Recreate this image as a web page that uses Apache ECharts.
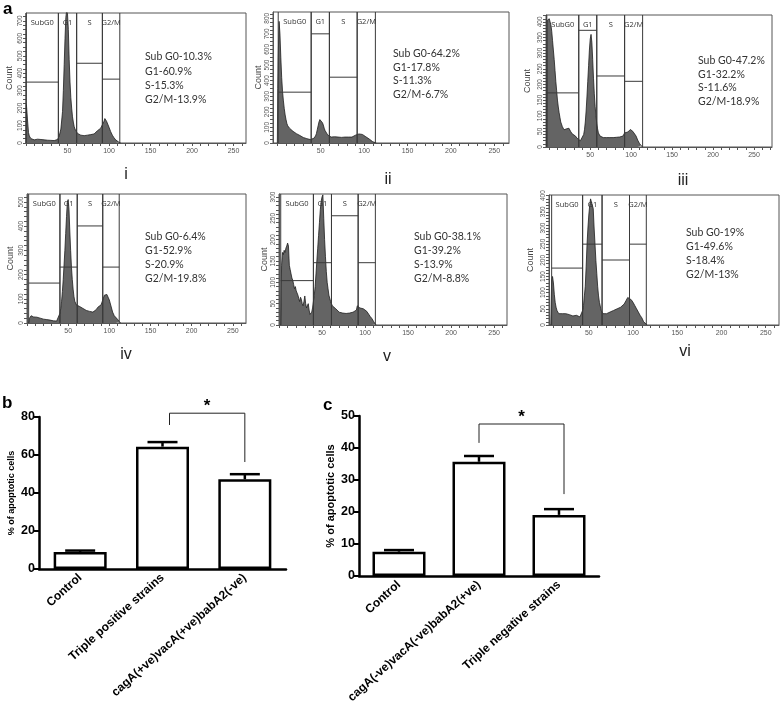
<!DOCTYPE html>
<html><head><meta charset="utf-8">
<script src="https://cdn.jsdelivr.net/npm/echarts@6/dist/echarts.min.js"></script>
<style>html,body{margin:0;padding:0;background:#fff}#c{width:784px;height:717px}</style>
</head><body><div id="c"></div><script>
// ---------- DATA: flow cytometry histograms (channel, count) ----------
const histI = [[0,0],[0.5,220],[1,215],[2,120],[3,60],[4,40],[5,30],[6,25],[8,20],[10,18],[12,15],[14,22],[16,18],[18,20],[20,15],[22,18],[24,14],[26,16],[28,12],[30,15],[32,12],[34,14],[36,15],[38,20],[40,40],[42,80],[44,180],[45,300],[46,450],[47,600],[48,720],[49,760],[50,740],[51,650],[52,480],[53,350],[54,260],[55,200],[56,150],[57,120],[58,95],[59,80],[60,70],[62,55],[64,50],[66,45],[68,48],[70,42],[72,50],[74,45],[76,52],[78,48],[80,55],[82,52],[84,60],[86,70],[88,78],[90,85],[92,105],[94,125],[95,140],[96,135],[97,125],[98,115],[100,90],[102,65],[104,45],[106,30],[108,18],[110,8],[112,4],[114,0]];
const histII = [[0,0],[0.5,350],[1,550],[2,780],[3,700],[4,550],[5,420],[6,330],[7,270],[8,220],[9,180],[10,150],[11,125],[12,110],[14,95],[16,85],[18,75],[20,65],[22,60],[24,52],[26,48],[28,40],[30,35],[32,32],[34,28],[36,25],[38,22],[40,22],[42,30],[44,45],[45,60],[46,85],[47,110],[48,135],[49,150],[50,155],[51,150],[52,130],[53,115],[54,95],[55,80],[56,68],[58,52],[60,42],[62,38],[64,35],[66,40],[68,35],[70,38],[72,32],[74,36],[76,35],[78,38],[80,35],[82,38],[84,40],[86,38],[88,45],[90,50],[92,55],[94,58],[96,60],[98,55],[100,50],[102,40],[104,32],[106,25],[108,15],[110,8],[112,3],[114,0]];
const histIII = [[-3,0],[-2.5,405],[0,410],[1,400],[2,390],[3,370],[4,340],[5,310],[6,280],[7,245],[8,210],[9,180],[10,150],[11,128],[12,110],[13,95],[14,80],[16,65],[18,55],[20,52],[21,58],[22,62],[23,64],[24,60],[26,50],[28,42],[30,38],[32,35],[34,28],[36,22],[38,20],[40,25],[42,40],[43,55],[44,80],[45,115],[46,160],[47,210],[48,260],[49,310],[50,345],[51,360],[52,335],[53,280],[54,220],[55,170],[56,130],[57,100],[58,75],[59,58],[60,45],[62,35],[64,32],[66,30],[68,33],[70,30],[72,32],[74,30],[76,34],[78,30],[80,33],[82,31],[84,35],[86,32],[88,34],[90,35],[92,45],[94,50],[96,48],[98,52],[99,56],[100,55],[102,50],[104,45],[106,35],[108,22],[110,12],[112,5],[114,0]];
const histIV = [[2,0],[3,20],[4,25],[5,30],[6,26],[8,25],[10,22],[12,24],[14,18],[16,20],[18,15],[20,16],[22,12],[24,14],[26,10],[28,12],[30,12],[32,9],[34,10],[36,8],[38,15],[40,40],[41,60],[42,90],[43,130],[44,180],[45,240],[46,300],[47,370],[48,440],[49,500],[50,510],[51,470],[52,380],[53,300],[54,230],[55,180],[56,140],[57,110],[58,90],[60,75],[62,72],[64,68],[66,65],[68,60],[70,55],[72,52],[74,45],[76,48],[78,44],[80,45],[82,50],[84,55],[86,65],[88,72],[90,75],[92,95],[94,115],[95,120],[96,122],[97,118],[98,115],[100,95],[102,70],[104,45],[106,30],[108,22],[110,15],[112,6],[114,0]];
const histV = [[2,0],[3,140],[4,170],[5,165],[6,175],[7,170],[8,180],[9,185],[10,192],[11,185],[12,140],[13,130],[14,120],[15,110],[16,105],[17,95],[18,85],[19,90],[20,80],[21,75],[22,70],[23,62],[24,55],[25,65],[26,60],[27,50],[28,45],[29,55],[30,68],[31,50],[32,40],[33,45],[34,50],[35,35],[36,25],[37,28],[38,30],[39,40],[40,55],[41,70],[42,90],[43,120],[44,150],[45,180],[46,210],[47,240],[48,270],[49,290],[50,300],[51,305],[52,250],[53,200],[54,160],[55,125],[56,100],[57,85],[58,70],[60,55],[62,45],[64,42],[66,38],[68,35],[70,30],[72,32],[74,28],[76,30],[78,27],[80,30],[82,28],[84,32],[86,30],[88,33],[90,35],[91,45],[92,42],[94,40],[96,42],[98,38],[100,40],[102,32],[104,28],[106,20],[108,15],[110,8],[112,2],[113,0]];
const histVI = [[7,0],[8,140],[9,150],[10,130],[11,95],[12,70],[13,55],[14,45],[16,35],[18,30],[20,35],[22,30],[24,35],[26,30],[28,32],[30,35],[32,28],[34,30],[36,30],[38,28],[40,25],[42,30],[43,45],[44,60],[45,90],[46,120],[47,180],[48,250],[49,300],[50,340],[51,370],[52,390],[53,395],[54,385],[55,360],[56,300],[57,250],[58,200],[59,160],[60,120],[61,90],[62,70],[64,45],[66,35],[68,38],[70,35],[72,38],[74,40],[76,38],[78,45],[80,45],[82,50],[84,55],[86,55],[88,60],[90,65],[92,75],[93,80],[94,85],[95,85],[96,82],[98,78],[100,70],[102,60],[104,50],[106,40],[108,30],[110,22],[112,10],[114,4],[116,0]];
const hists = [histI, histII, histIII, histIV, histV, histVI];

const panelNumerals = ['i','ii','iii','iv','v','vi'];
const gateNames = ['SubG0','G1','S','G2/M'];
const gateBounds = [
  [0,39,61,92,113],[1,39,60,92,113],[-3,36,58,92,114],
  [2,40,61,92,112],[2,40,61,92,112],[8,43,65,96,115]
];
const gateLevels = [ // -1 = marker line not shown
  [349,-1,457,366],[326,700,422,-1],[173,373,227,210],
  [165,231,401,231],[104,146,256,146],[176,250,201,250]
];
const statsText = [
  ['Sub G0-10.3%','G1-60.9%','S-15.3%','G2/M-13.9%'],
  ['Sub G0-64.2%','G1-17.8%','S-11.3%','G2/M-6.7%'],
  ['Sub G0-47.2%','G1-32.2%','S-11.6%','G2/M-18.9%'],
  ['Sub G0-6.4%','G1-52.9%','S-20.9%','G2/M-19.8%'],
  ['Sub G0-38.1%','G1-39.2%','S-13.9%','G2/M-8.8%'],
  ['Sub G0-19%','G1-49.6%','S-18.4%','G2/M-13%']
];
const xRanges = [[0,265],[-5,267],[-4,272],[0,266],[0,265],[5,265]];
const yMaxes = [745,840,422,533,307,402];
const xTickLabels = [50,100,150,200,250];
const yTickLabels = [
  [0,100,200,300,400,500,600,700],[0,100,200,300,400,500,600,700,800],
  [0,50,100,150,200,250,300,350,400],[0,100,200,300,400,500],
  [0,50,100,150,200,250,300],[0,50,100,150,200,250,300,350,400]
];
const yMinorStep = [25,25,10,20,10,10];

// ---------- DATA: apoptosis bar charts ----------
const catsB = ['Control','Triple positive strains','cagA(+ve)vacA(+ve)babA2(-ve)'];
const meansB = [9.0, 64.4, 47.2];
const errB = [0.7, 2.4, 2.7];
const bracketB = [1, 2, 82, 75.8, 56.3]; // from, to, top, left end, right end
const catsC = ['Control','cagA(-ve)vacA(-ve)babA2(+ve)','Triple negative strains'];
const meansC = [7.6, 35.7, 19.1];
const errC = [0.5, 1.8, 1.8];
const bracketC = [1, 2, 47.5, 41.6, 25.6];

// ---------- LAYOUT (style) ----------
const histGrids = [
  {left:26, top:13, width:220, height:130},
  {left:273, top:12, width:236, height:131},
  {left:546, top:15, width:226, height:132},
  {left:27, top:194, width:219, height:129},
  {left:279, top:194, width:228, height:131},
  {left:549, top:195, width:230, height:130}
];
const countGaps = [12,8,14,12,10,14];
const statsPos = [[145,57],[393,54],[698,61],[145,237],[414,237],[686,233]];
const statsGap = [14.2,13.4,13.4,14,14,14];
const numeralPos = [[126,175],[388,180],[683,181],[126,355],[387,357],[685,352]];
const bracketOffB = [7,0], bracketOffC = [0,5];

const SANS = '"Liberation Sans", Arial, sans-serif';
const grids = [], xAxes = [], yAxes = [], series = [], graphics = [];

hists.forEach((h, k) => {
  const g = histGrids[k];
  grids.push(Object.assign({show:true, borderColor:'#555', borderWidth:1, backgroundColor:'#fff'}, g));
  const xt = []; for (let v = Math.ceil(xRanges[k][0]/10)*10; v <= xRanges[k][1]; v += 10) xt.push(v);
  const yt = []; for (let v = 0; v <= yMaxes[k]; v += yMinorStep[k]) yt.push(v);
  xAxes.push({type:'value', gridIndex:k, min:xRanges[k][0], max:xRanges[k][1],
    axisLine:{onZero:false, lineStyle:{color:'#555', width:1}},
    axisTick:{customValues:xt, length:3, lineStyle:{color:'#555'}},
    axisLabel:{customValues:xTickLabels, fontSize:7, color:'#555', margin:5, fontFamily:SANS},
    splitLine:{show:false}});
  yAxes.push({type:'value', gridIndex:k, min:0, max:yMaxes[k],
    name:'Count', nameLocation:'middle', nameGap:countGaps[k],
    nameTextStyle:{fontSize:9, color:'#444', fontFamily:SANS},
    axisLine:{onZero:false, lineStyle:{color:'#555', width:1}},
    axisTick:{customValues:yt, length:3, lineStyle:{color:'#555'}},
    axisLabel:{customValues:yTickLabels[k], fontSize:6.5, color:'#555', rotate:90, margin:2, fontFamily:SANS},
    splitLine:{show:false}});
  series.push({type:'line', xAxisIndex:k, yAxisIndex:k, data:h, symbol:'none', silent:true,
    lineStyle:{color:'#1e1e1e', width:0.8}, areaStyle:{color:'#646464', opacity:1}, z:2});
  const gd = [];
  for (let j = 0; j < 4; j++) gd.push([gateBounds[k][j], gateBounds[k][j+1], gateLevels[k][j], j]);
  const ymax = yMaxes[k];
  series.push({type:'custom', xAxisIndex:k, yAxisIndex:k, data:gd, silent:true, z:5, clip:false,
    renderItem:(params, api) => {
      const x1 = api.value(0), x2 = api.value(1), lv = api.value(2), j = api.value(3);
      const a0 = api.coord([x1,0]), a1 = api.coord([x1,ymax]);
      const b0 = api.coord([x2,0]), b1 = api.coord([x2,ymax]);
      const st = {stroke:'#3a3a3a', lineWidth:1};
      const ch = [
        {type:'line', shape:{x1:a0[0],y1:a0[1],x2:a1[0],y2:a1[1]}, style:st},
        {type:'line', shape:{x1:b0[0],y1:b0[1],x2:b1[0],y2:b1[1]}, style:st},
        {type:'text', x:(a1[0]+b1[0])/2, y:a1[1]+10, style:{text:gateNames[j], fill:'#333', font:'7.5px "Open Sans", sans-serif', align:'center', verticalAlign:'middle'}}
      ];
      if (lv >= 0) {
        const l1 = api.coord([x1,lv]), l2 = api.coord([x2,lv]);
        ch.push({type:'line', shape:{x1:l1[0],y1:l1[1],x2:l2[0],y2:l2[1]}, style:st});
      }
      return {type:'group', children:ch};
    }});
  statsText[k].forEach((t, r) => {
    graphics.push({type:'text', x:statsPos[k][0], y:statsPos[k][1] + r*statsGap[k],
      style:{text:t, fill:'#333', font:'10.5px Lato, sans-serif', verticalAlign:'middle'}});
  });
  graphics.push({type:'text', x:numeralPos[k][0], y:numeralPos[k][1],
    style:{text:panelNumerals[k], fill:'#222', font:'16px ' + SANS, align:'center', verticalAlign:'middle'}});
});

function barPanel(gi, cats, means, errs, bracket, off, ymax, step, grid, nameSize, nameGap) {
  grids.push(grid);
  xAxes.push({type:'category', gridIndex:gi, data:cats,
    axisLine:{lineStyle:{color:'#000', width:2.5}},
    axisTick:{alignWithLabel:true, length:5, lineStyle:{color:'#000', width:2}},
    axisLabel:{rotate:42, fontSize:12, fontWeight:'bold', color:'#000', margin:7, fontFamily:SANS, interval:0}});
  yAxes.push({type:'value', gridIndex:gi, min:0, max:ymax, interval:step,
    name:'% of apoptotic cells', nameLocation:'middle', nameGap:nameGap,
    nameTextStyle:{fontSize:nameSize, fontWeight:'bold', color:'#000', fontFamily:SANS},
    axisLine:{show:true, lineStyle:{color:'#000', width:2.5}},
    axisTick:{show:true, length:5, lineStyle:{color:'#000', width:2}},
    axisLabel:{fontSize:12.5, fontWeight:'bold', color:'#000', margin:4, fontFamily:SANS},
    splitLine:{show:false}});
  series.push({type:'bar', xAxisIndex:gi, yAxisIndex:gi, data:means, barWidth:53, silent:true,
    itemStyle:{color:'#fff', borderColor:'#000', borderWidth:2.5}, z:2});
  series.push({type:'custom', xAxisIndex:gi, yAxisIndex:gi, silent:true, z:3,
    data:means.map((m,i) => [i, m, errs[i]]),
    renderItem:(p, api) => {
      const c0 = api.coord([api.value(0), api.value(1)]);
      const c1 = api.coord([api.value(0), api.value(1) + api.value(2)]);
      const st = {stroke:'#000', lineWidth:2.5};
      return {type:'group', children:[
        {type:'line', shape:{x1:c0[0],y1:c0[1],x2:c1[0],y2:c1[1]}, style:st},
        {type:'line', shape:{x1:c1[0]-15,y1:c1[1],x2:c1[0]+15,y2:c1[1]}, style:st}]};
    }});
  series.push({type:'custom', xAxisIndex:gi, yAxisIndex:gi, silent:true, z:3, clip:false,
    data:[bracket],
    renderItem:(p, api) => {
      const lt = api.coord([api.value(0), api.value(2)]), rt = api.coord([api.value(1), api.value(2)]);
      const lb = api.coord([api.value(0), api.value(3)]), rb = api.coord([api.value(1), api.value(4)]);
      const xl = lt[0] + off[0], xr = rt[0] + off[1];
      return {type:'group', children:[
        {type:'polyline', shape:{points:[[xl,lb[1]],[xl,lt[1]],[xr,lt[1]],[xr,rb[1]]]}, style:{stroke:'#222', lineWidth:1, fill:null}},
        {type:'text', x:(xl+xr)/2, y:lt[1]+2, style:{text:'*', fill:'#000', font:'bold 17px ' + SANS, align:'center', verticalAlign:'bottom'}}]};
    }});
}
barPanel(6, catsB, meansB, errB, bracketB, bracketOffB, 80, 20, {left:39, top:417, width:247, height:152}, 9, 23);
barPanel(7, catsC, meansC, errC, bracketC, bracketOffC, 50, 10, {left:359, top:416, width:240, height:160}, 11, 23);

graphics.push({type:'text', x:3, y:9, style:{text:'a', fill:'#000', font:'bold 17px ' + SANS, verticalAlign:'middle'}});
graphics.push({type:'text', x:2, y:403, style:{text:'b', fill:'#000', font:'bold 17px ' + SANS, verticalAlign:'middle'}});
graphics.push({type:'text', x:323, y:405, style:{text:'c', fill:'#000', font:'bold 17px ' + SANS, verticalAlign:'middle'}});

const chart = echarts.init(document.getElementById('c'), null, {renderer:'canvas'});
chart.setOption({animation:false, backgroundColor:'#fff', grid:grids, xAxis:xAxes, yAxis:yAxes, series:series, graphic:graphics});
</script></body></html>
